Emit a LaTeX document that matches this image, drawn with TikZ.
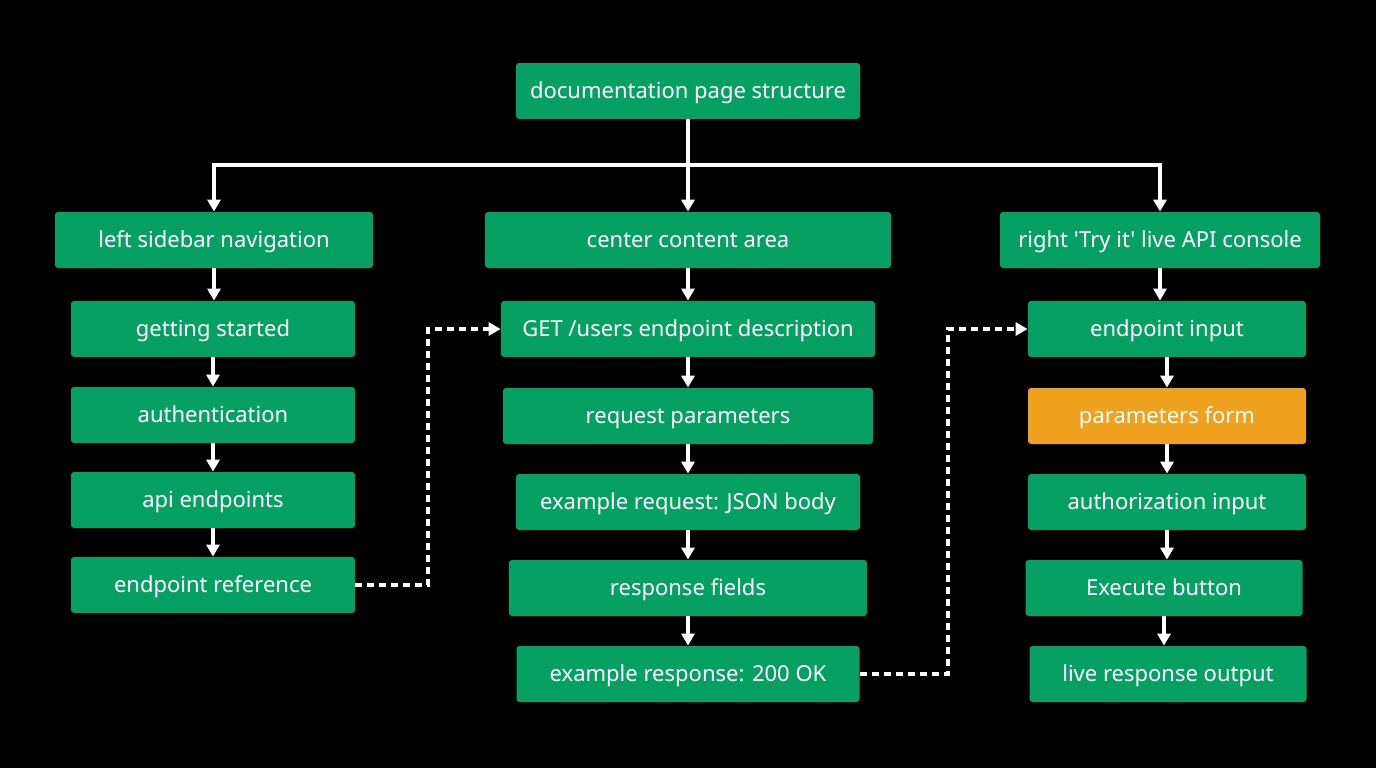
\documentclass[tikz,border=0pt]{standalone}
\usepackage{fontspec}
\newfontfamily\plainsans{Noto Sans}
\usetikzlibrary{arrows.meta}
\definecolor{gr}{HTML}{07A064}
\definecolor{og}{HTML}{EFA11F}
\begin{document}
\begin{tikzpicture}[x=0.5pt,y=-0.5pt,
 box/.style={fill=gr,rounded corners=1.5pt,minimum height=28pt,text=white,font=\plainsans\fontsize{11}{13}\selectfont,inner sep=0pt,text height=8pt,text depth=1pt},
 ar/.style={draw=white,line width=1.6pt,-{Triangle[length=6pt,width=6.5pt]}},
 da/.style={ar,dashed,dash pattern=on 3.5pt off 2.5pt}]
\fill[black] (0,0) rectangle (1376,768);
\useasboundingbox (0,0) rectangle (1376,768);
\node[box,minimum width=172pt] (top) at (688,91) {documentation page structure};
\node[box,minimum width=159pt] (L) at (214,240) {left sidebar navigation};
\node[box,minimum width=203pt] (C) at (688,240) {center content area};
\node[box,minimum width=160pt] (R) at (1160,240) {right 'Try it' live API console};
\node[box,minimum width=142pt] (l1) at (213,329) {getting started};
\node[box,minimum width=142pt] (l2) at (213,415) {authentication};
\node[box,minimum width=142pt] (l3) at (213,500) {api endpoints};
\node[box,minimum width=142pt] (l4) at (213,585) {endpoint reference};
\node[box,minimum width=187pt] (c1) at (688,329) {GET /users endpoint description};
\node[box,minimum width=185pt] (c2) at (688,416) {request parameters};
\node[box,minimum width=172pt] (c3) at (688,502) {example request: JSON body};
\node[box,minimum width=179pt] (c4) at (688,588) {response fields};
\node[box,minimum width=171.5pt] (c5) at (688,674) {example response: 200 OK};
\node[box,minimum width=139pt] (r1) at (1167,329) {endpoint input};
\node[box,minimum width=139pt,fill=og] (r2) at (1167,416) {parameters form};
\node[box,minimum width=139pt] (r3) at (1167,502) {authorization input};
\node[box,minimum width=138.5pt] (r4) at (1164,588) {Execute button};
\node[box,minimum width=138.5pt] (r5) at (1168,674) {live response output};
\coordinate (j) at (688,165);
\draw[white,line width=1.6pt] (top.south) -- (j);
\draw[ar] (j) -| (L.north);
\draw[ar] (j) -- (C.north);
\draw[ar] (j) -| (R.north);
\foreach \a/\b in {L/l1,l1/l2,l2/l3,l3/l4,C/c1,c1/c2,c2/c3,c3/c4,c4/c5,R/r1,r1/r2,r2/r3,r3/r4,r4/r5}
 \draw[ar] (\a.south) -- (\a.south|-\b.north);
\coordinate (d1) at (428,585);
\coordinate (d2) at (948,674);
\draw[da] (l4.east) -- (d1) |- (c1.west);
\draw[da] (c5.east) -- (d2) |- (r1.west);
\end{tikzpicture}
\end{document}
